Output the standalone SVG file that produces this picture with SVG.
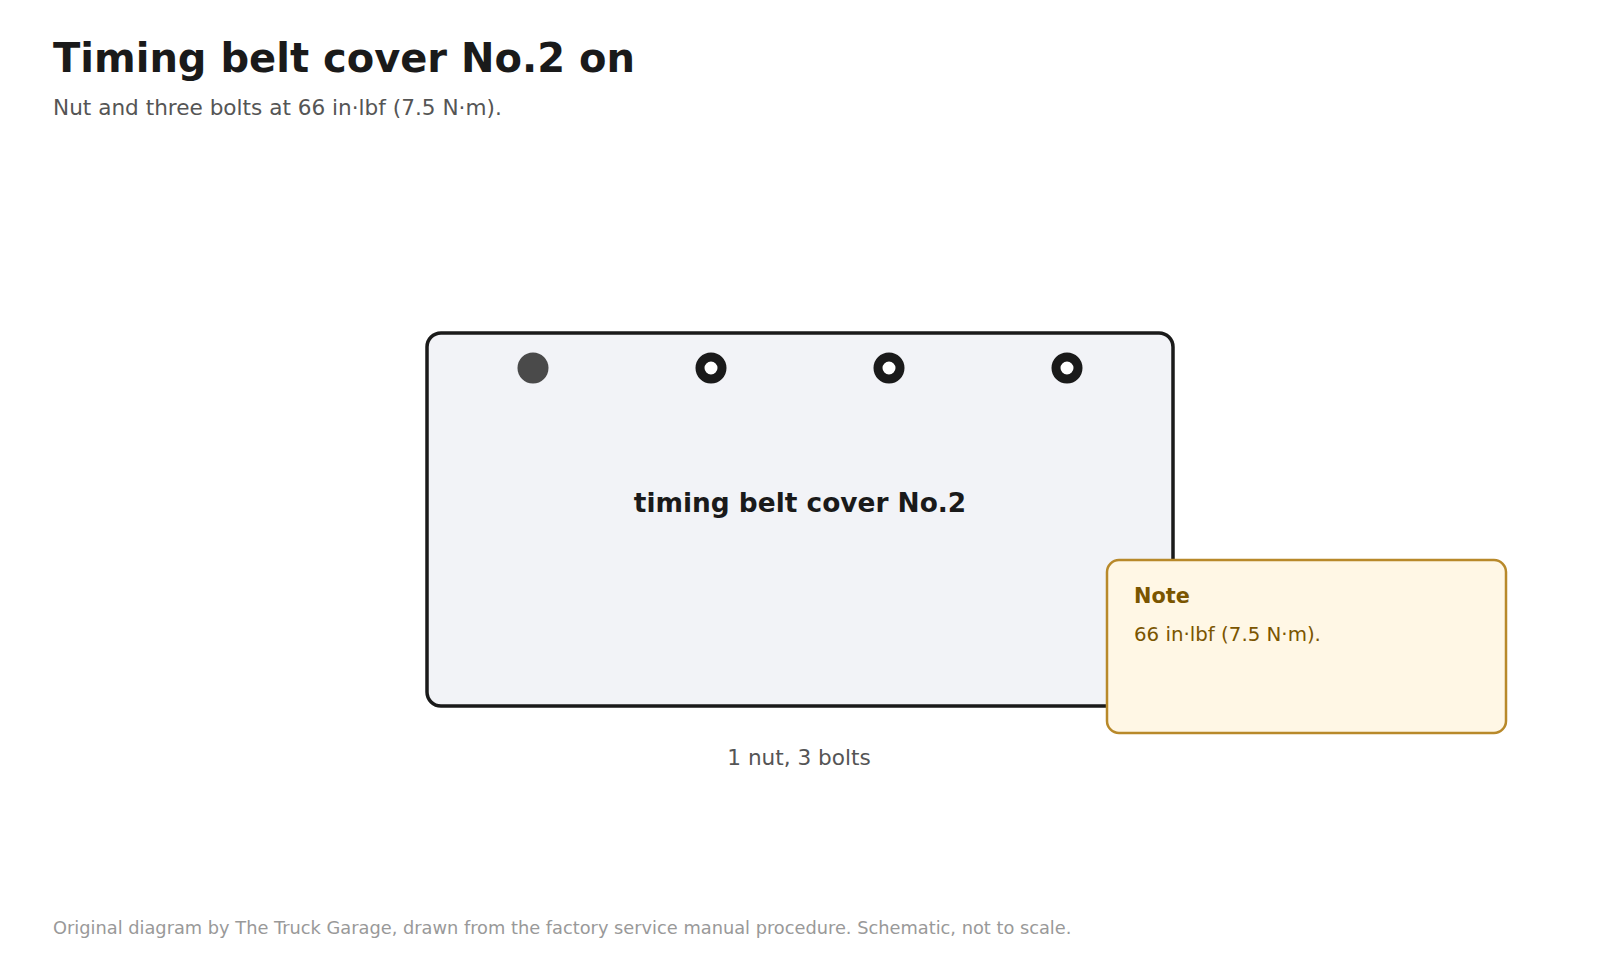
<svg xmlns="http://www.w3.org/2000/svg" width="1600" height="960" viewBox="0 0 1600 960">
<style>
text{font-family:"DejaVu Sans","Noto Sans",sans-serif}
.title{font-size:40px;font-weight:bold;fill:#1a1a1a}
.sub{font-size:21.6px;fill:#555}
.part{fill:#f2f3f7;stroke:#1a1a1a;stroke-width:3.5}
.plabel{font-size:26.4px;font-weight:bold;fill:#1a1a1a;text-anchor:middle}
.nut{fill:#4a4a4a}
.bolt{fill:#fff;stroke:#1a1a1a;stroke-width:9}
.cap{font-size:21.6px;fill:#555;text-anchor:middle}
.note{fill:#fff7e5;stroke:#b8892a;stroke-width:2.5}
.nt{font-size:20.8px;font-weight:bold;fill:#7a5500}
.nb{font-size:19.8px;fill:#7a5500}
.foot{font-size:17.8px;fill:#999}
</style>
<rect width="1600" height="960" fill="#fff"/>
<text class="title" x="53" y="72">Timing belt cover No.2 on</text>
<text class="sub" x="53" y="115">Nut and three bolts at 66 in·lbf (7.5 N·m).</text>
<g id="cover">
<rect class="part" x="427" y="333" width="746" height="373" rx="14"/>
<text class="plabel" x="800" y="512">timing belt cover No.2</text>
</g>
<g id="fasteners">
<circle class="nut" cx="533" cy="368" r="15.5"/>
<circle class="bolt" cx="711" cy="368" r="11"/>
<circle class="bolt" cx="889" cy="368" r="11"/>
<circle class="bolt" cx="1067" cy="368" r="11"/>
</g>
<g id="count">
<text class="cap" x="799" y="765">1 nut, 3 bolts</text>
</g>
<g id="note">
<rect class="note" x="1107" y="560" width="399" height="173" rx="12"/>
<text class="nt" x="1134" y="603">Note</text>
<text class="nb" x="1134" y="641">66 in·lbf (7.5 N·m).</text>
</g>
<g id="connectors"></g>
<text class="foot" x="53" y="934">Original diagram by The Truck Garage, drawn from the factory service manual procedure. Schematic, not to scale.</text>
</svg>
